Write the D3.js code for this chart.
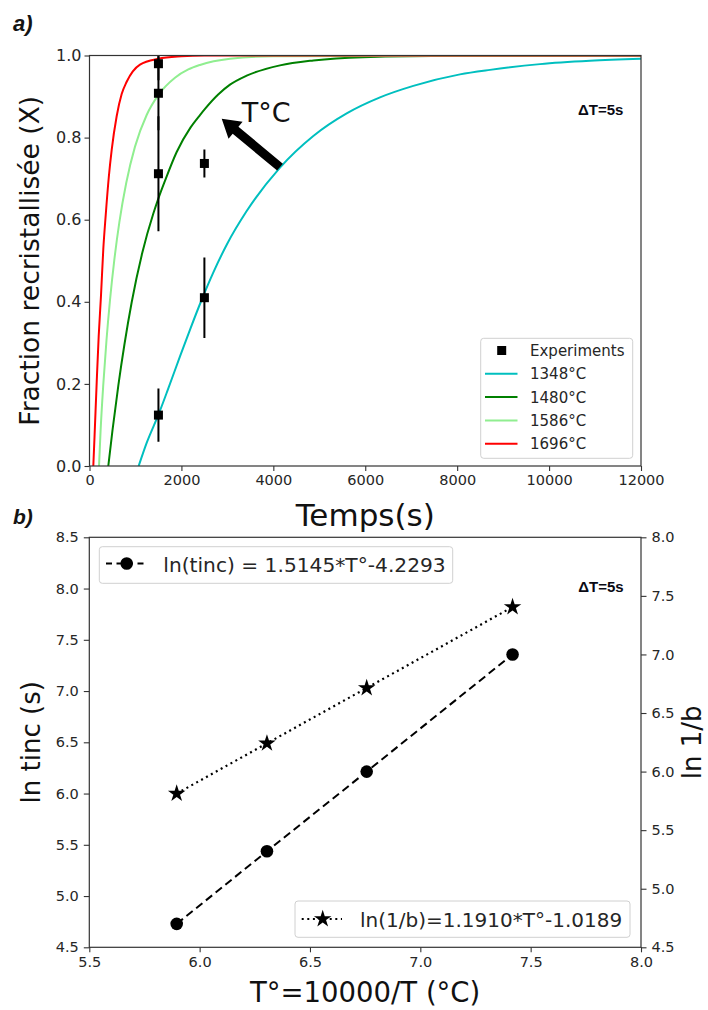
<!DOCTYPE html>
<html><head><meta charset="utf-8">
<script src="https://cdn.jsdelivr.net/npm/d3@7"></script>
<style>
html,body{margin:0;padding:0;background:#fff;}
svg{display:block;}
</style></head>
<body>
<svg id="chart" width="708" height="1010"></svg>
<script>
// ---------- DATA: panel a ----------
const seriesLabels = ["1348°C", "1480°C", "1586°C", "1696°C"];
const seriesColors = ["#00bfbf", "#008000", "#90ee90", "#ff0000"];
const t1348 = [1070, 1250, 1500, 1715, 1969, 2200, 2441, 2700, 3000, 3420, 4145, 4870, 5596, 6321, 7046, 8061, 8715, 9803, 10891, 12000];
const x1348 = [0, 0.058, 0.125, 0.189, 0.267, 0.336, 0.405, 0.473, 0.542, 0.621, 0.727, 0.804, 0.859, 0.898, 0.926, 0.954, 0.965, 0.979, 0.987, 0.992];
const t1480 = [409, 500, 627, 760, 918, 1150, 1389, 1500, 1650, 1897, 2200, 2404, 2513, 2800, 3057, 3420, 4145, 4870, 5950, 8000, 12000];
const x1480 = [0, 0.087, 0.196, 0.296, 0.399, 0.52, 0.615, 0.652, 0.697, 0.765, 0.825, 0.855, 0.87, 0.905, 0.929, 0.951, 0.976, 0.988, 0.996, 0.9995, 1.0];
const t1586 = [207, 240, 301, 370, 446, 540, 650, 800, 990, 1244, 1500, 1860, 2150, 2404, 3057, 4000, 12000];
const x1586 = [0, 0.083, 0.20, 0.307, 0.404, 0.502, 0.594, 0.690, 0.778, 0.855, 0.904, 0.946, 0.966, 0.977, 0.992, 0.998, 1.0];
const t1696 = [83, 110, 157, 200, 250, 300, 352, 420, 483, 591, 700, 809, 1099, 1500, 2000, 2500, 12000];
const x1696 = [0, 0.073, 0.205, 0.316, 0.415, 0.528, 0.61, 0.704, 0.77, 0.852, 0.906, 0.936, 0.978, 0.992, 0.998, 1.0, 1.0];
const expTime = [1500, 1500, 1500, 1500, 2500, 2500];
const expFrac = [0.98, 0.908, 0.712, 0.124, 0.737, 0.410];
const expErr  = [0.04, 0.09, 0.14, 0.065, 0.034, 0.098];
const xTicksA = [0, 2000, 4000, 6000, 8000, 10000, 12000];
const yTicksA = [0.0, 0.2, 0.4, 0.6, 0.8, 1.0];

// ---------- DATA: panel b ----------
const tStar = [5.896, 6.305, 6.757, 7.418];          // 10000/T
const lnTinc = [4.70, 5.32, 6.00, 7.00];             // circles (right axis)
const lnInvB = [6.00, 6.49, 7.03, 7.82];             // stars (left axis)
const legendB1 = "ln(tinc) = 1.5145*T°-4.2293";
const legendB2 = "ln(1/b)=1.1910*T°-1.0189";
const xTicksB = [5.5, 6.0, 6.5, 7.0, 7.5, 8.0];
const yTicksBL = [4.5, 5.0, 5.5, 6.0, 6.5, 7.0, 7.5, 8.0, 8.5];
const yTicksBR = [4.5, 5.0, 5.5, 6.0, 6.5, 7.0, 7.5, 8.0];

// ---------- SETUP ----------
const svg = d3.select("#chart");
const FONT = "DejaVu Sans, sans-serif";
const TICKC = "#262626";
const AXC = "#333";

function styleAxis(g, fs) {
  g.select(".domain").remove();
  g.selectAll(".tick line").attr("stroke", AXC).attr("stroke-width", 1.1);
  g.selectAll(".tick text").attr("fill", TICKC).style("font-family", FONT).style("font-size", fs + "px");
}

// ================= PANEL A =================
const xA = d3.scaleLinear().domain([0, 12000]).range([89.5, 641]);
const yA = d3.scaleLinear().domain([0, 1]).range([466, 55.5]);

svg.append("defs").append("clipPath").attr("id", "clipA")
  .append("rect").attr("x", xA(0)).attr("y", yA(1)).attr("width", xA(12000) - xA(0)).attr("height", yA(0) - yA(1));

const gA = svg.append("g");
const plotA = gA.append("g").attr("clip-path", "url(#clipA)");

const curves = [
  {t: t1348, x: x1348, c: seriesColors[0]},
  {t: t1480, x: x1480, c: seriesColors[1]},
  {t: t1586, x: x1586, c: seriesColors[2]},
  {t: t1696, x: x1696, c: seriesColors[3]}
];
const lineA = d3.line().x(d => xA(d[0])).y(d => yA(d[1])).curve(d3.curveMonotoneX);
curves.forEach(s => {
  plotA.append("path").datum(s.t.map((t, i) => [t, s.x[i]]))
    .attr("d", lineA).attr("fill", "none").attr("stroke", s.c).attr("stroke-width", 2);
});

// experiments with error bars
const expData = expTime.map((t, i) => ({t, x: expFrac[i], e: expErr[i]}));
plotA.selectAll(".eb").data(expData).enter().append("line")
  .attr("x1", d => xA(d.t)).attr("x2", d => xA(d.t))
  .attr("y1", d => yA(d.x - d.e)).attr("y2", d => yA(d.x + d.e))
  .attr("stroke", "#000").attr("stroke-width", 2);
plotA.selectAll(".sq").data(expData).enter().append("rect")
  .attr("x", d => xA(d.t) - 4.5).attr("y", d => yA(d.x) - 4.5)
  .attr("width", 9).attr("height", 9).attr("fill", "#000");

// frame
gA.append("rect").attr("x", xA(0)).attr("y", yA(1)).attr("width", xA(12000) - xA(0)).attr("height", yA(0) - yA(1))
  .attr("fill", "none").attr("stroke", AXC).attr("stroke-width", 1.2);

// axes
gA.append("g").attr("transform", `translate(0,${yA(0)})`)
  .call(d3.axisBottom(xA).tickValues(xTicksA).tickSize(5).tickPadding(4).tickFormat(d3.format("d")))
  .call(g => styleAxis(g, 14.5));
gA.append("g").attr("transform", `translate(${xA(0)},0)`)
  .call(d3.axisLeft(yA).tickValues(yTicksA).tickSize(5).tickPadding(3).tickFormat(d3.format(".1f")))
  .call(g => styleAxis(g, 16));

// arrow annotation
(function() {
  const p0 = [xA(4145), yA(0.728)], p1 = [xA(2877), yA(0.846)];
  const dx = p1[0] - p0[0], dy = p1[1] - p0[1], L = Math.hypot(dx, dy);
  const u = [dx / L, dy / L], n = [-u[1], u[0]];
  const hw = 4.5, hh = 11, hl = 18;
  const B = [p1[0] - u[0] * hl, p1[1] - u[1] * hl];
  const pts = [
    [p0[0] + n[0] * hw, p0[1] + n[1] * hw],
    [B[0] + n[0] * hw, B[1] + n[1] * hw],
    [B[0] + n[0] * hh, B[1] + n[1] * hh],
    p1,
    [B[0] - n[0] * hh, B[1] - n[1] * hh],
    [B[0] - n[0] * hw, B[1] - n[1] * hw],
    [p0[0] - n[0] * hw, p0[1] - n[1] * hw]
  ];
  gA.append("path").attr("d", "M" + pts.map(p => p.join(",")).join("L") + "Z").attr("fill", "#000");
})();
gA.append("text").attr("x", xA(3312)).attr("y", yA(0.839)).text("T°C")
  .style("font-family", FONT).style("font-size", "27px").attr("fill", "#111");
gA.append("text").attr("x", xA(10629)).attr("y", yA(0.855)).text("ΔT=5s")
  .style("font-family", "Liberation Sans, Arial, sans-serif").style("font-weight", "bold").style("font-size", "15px").attr("fill", "#0a0a14");

// legend a
(function() {
  const lg = gA.append("g");
  lg.append("rect").attr("x", 480.7).attr("y", 338.3).attr("width", 152).attr("height", 120).attr("rx", 3)
    .attr("fill", "#fff").attr("fill-opacity", 0.85).attr("stroke", "#d0d0d0").attr("stroke-width", 1);
  const base = 356, step = 23.3;
  lg.append("rect").attr("x", 501.7 - 4.5).attr("y", base - 5.5 - 4.5).attr("width", 9).attr("height", 9).attr("fill", "#000");
  lg.append("text").attr("x", 530).attr("y", base).text("Experiments")
    .style("font-family", FONT).style("font-size", "15px").attr("fill", TICKC);
  seriesLabels.forEach((lab, i) => {
    const y = base + step * (i + 1);
    lg.append("line").attr("x1", 485).attr("x2", 517.5).attr("y1", y - 5.5).attr("y2", y - 5.5)
      .attr("stroke", seriesColors[i]).attr("stroke-width", 2);
    lg.append("text").attr("x", 530).attr("y", y).text(lab)
      .style("font-family", FONT).style("font-size", "15px").attr("fill", TICKC);
  });
})();

// labels
svg.append("text").attr("transform", `translate(39,${(yA(0) + yA(1)) / 2}) rotate(-90)`).attr("text-anchor", "middle")
  .text("Fraction recristallisée (X)").style("font-family", FONT).style("font-size", "26.5px").attr("fill", "#111");
svg.append("text").attr("x", (xA(0) + xA(12000)) / 2).attr("y", 526).attr("text-anchor", "middle")
  .text("Temps(s)").style("font-family", FONT).style("font-size", "31px").attr("fill", "#111");
svg.append("text").attr("x", 13).attr("y", 31).text("a)")
  .style("font-family", "Liberation Sans, Arial, sans-serif").style("font-weight", "bold").style("font-style", "italic").style("font-size", "22px").attr("fill", "#141414");
svg.append("text").attr("x", 13).attr("y", 524).text("b)")
  .style("font-family", "Liberation Sans, Arial, sans-serif").style("font-weight", "bold").style("font-style", "italic").style("font-size", "21px").attr("fill", "#141414");

// ================= PANEL B =================
const xB = d3.scaleLinear().domain([5.5, 8.0]).range([89.3, 641]);
const yBL = d3.scaleLinear().domain([4.5, 8.5]).range([947.3, 537.3]);
const yBR = d3.scaleLinear().domain([4.5, 8.0]).range([947.3, 537.3]);
const gB = svg.append("g");

gB.append("rect").attr("x", xB(5.5)).attr("y", yBL(8.5)).attr("width", xB(8) - xB(5.5)).attr("height", yBL(4.5) - yBL(8.5))
  .attr("fill", "none").attr("stroke", AXC).attr("stroke-width", 1.2);
gB.append("g").attr("transform", `translate(0,${yBL(4.5)})`)
  .call(d3.axisBottom(xB).tickValues(xTicksB).tickSize(5).tickPadding(4).tickFormat(d3.format(".1f")))
  .call(g => styleAxis(g, 14.5));
gB.append("g").attr("transform", `translate(${xB(5.5)},0)`)
  .call(d3.axisLeft(yBL).tickValues(yTicksBL).tickSize(5.5).tickPadding(5).tickFormat(d3.format(".1f")))
  .call(g => styleAxis(g, 14.5));
gB.append("g").attr("transform", `translate(${xB(8)},0)`)
  .call(d3.axisRight(yBR).tickValues(yTicksBR).tickSize(5.5).tickPadding(5).tickFormat(d3.format(".1f")))
  .call(g => styleAxis(g, 14.5));

const starSym = d3.symbol().type(d3.symbolStar).size(95);
// stars (dotted) on left axis
const starPts = tStar.map((t, i) => [t, lnInvB[i]]);
gB.append("path").datum(starPts)
  .attr("d", d3.line().x(d => xB(d[0])).y(d => yBL(d[1])))
  .attr("fill", "none").attr("stroke", "#000").attr("stroke-width", 2.2).attr("stroke-dasharray", "2,3.6");
gB.selectAll(".st").data(starPts).enter().append("path")
  .attr("d", starSym).attr("transform", d => `translate(${xB(d[0])},${yBL(d[1])})`).attr("fill", "#000");
// circles (dashed) on right axis
const circPts = tStar.map((t, i) => [t, lnTinc[i]]);
gB.append("path").datum(circPts)
  .attr("d", d3.line().x(d => xB(d[0])).y(d => yBR(d[1])))
  .attr("fill", "none").attr("stroke", "#000").attr("stroke-width", 2).attr("stroke-dasharray", "8,4.5");
gB.selectAll(".ci").data(circPts).enter().append("circle")
  .attr("cx", d => xB(d[0])).attr("cy", d => yBR(d[1])).attr("r", 6.3).attr("fill", "#000");

// legends b
(function() {
  const l1 = gB.append("g");
  l1.append("rect").attr("x", 99.3).attr("y", 546.7).attr("width", 353.4).attr("height", 36.6).attr("rx", 3)
    .attr("fill", "#fff").attr("stroke", "#d0d0d0");
  l1.append("line").attr("x1", 106).attr("x2", 147).attr("y1", 563.5).attr("y2", 563.5)
    .attr("stroke", "#000").attr("stroke-width", 2).attr("stroke-dasharray", "6,4.5");
  l1.append("circle").attr("cx", 126.7).attr("cy", 563.5).attr("r", 6.3).attr("fill", "#000");
  l1.append("text").attr("x", 163.3).attr("y", 571.5).text(legendB1)
    .style("font-family", FONT).style("font-size", "20.2px").attr("fill", TICKC);

  const l2 = gB.append("g");
  l2.append("rect").attr("x", 295).attr("y", 901).attr("width", 335).attr("height", 36.3).attr("rx", 3)
    .attr("fill", "#fff").attr("stroke", "#d0d0d0");
  l2.append("line").attr("x1", 301.7).attr("x2", 342).attr("y1", 919).attr("y2", 919)
    .attr("stroke", "#000").attr("stroke-width", 2.2).attr("stroke-dasharray", "2,3.6");
  l2.append("path").attr("d", starSym).attr("transform", "translate(322.7,919)").attr("fill", "#000");
  l2.append("text").attr("x", 360).attr("y", 927).text(legendB2)
    .style("font-family", FONT).style("font-size", "20px").attr("fill", TICKC);
})();

gB.append("text").attr("x", xB(7.716)).attr("y", yBL(7.969)).text("ΔT=5s")
  .style("font-family", "Liberation Sans, Arial, sans-serif").style("font-weight", "bold").style("font-size", "15px").attr("fill", "#0a0a14");

svg.append("text").attr("transform", `translate(40,${(yBL(4.5) + yBL(8.5)) / 2}) rotate(-90)`).attr("text-anchor", "middle")
  .text("ln tinc (s)").style("font-family", FONT).style("font-size", "26px").attr("fill", "#111");
svg.append("text").attr("transform", `translate(701,${(yBL(4.5) + yBL(8.5)) / 2}) rotate(-90)`).attr("text-anchor", "middle")
  .text("ln 1/b").style("font-family", FONT).style("font-size", "26px").attr("fill", "#111");
svg.append("text").attr("x", (xB(5.5) + xB(8)) / 2).attr("y", 1001.5).attr("text-anchor", "middle")
  .text("T°=10000/T (°C)").style("font-family", FONT).style("font-size", "27.5px").attr("fill", "#111");
</script>
</body></html>
